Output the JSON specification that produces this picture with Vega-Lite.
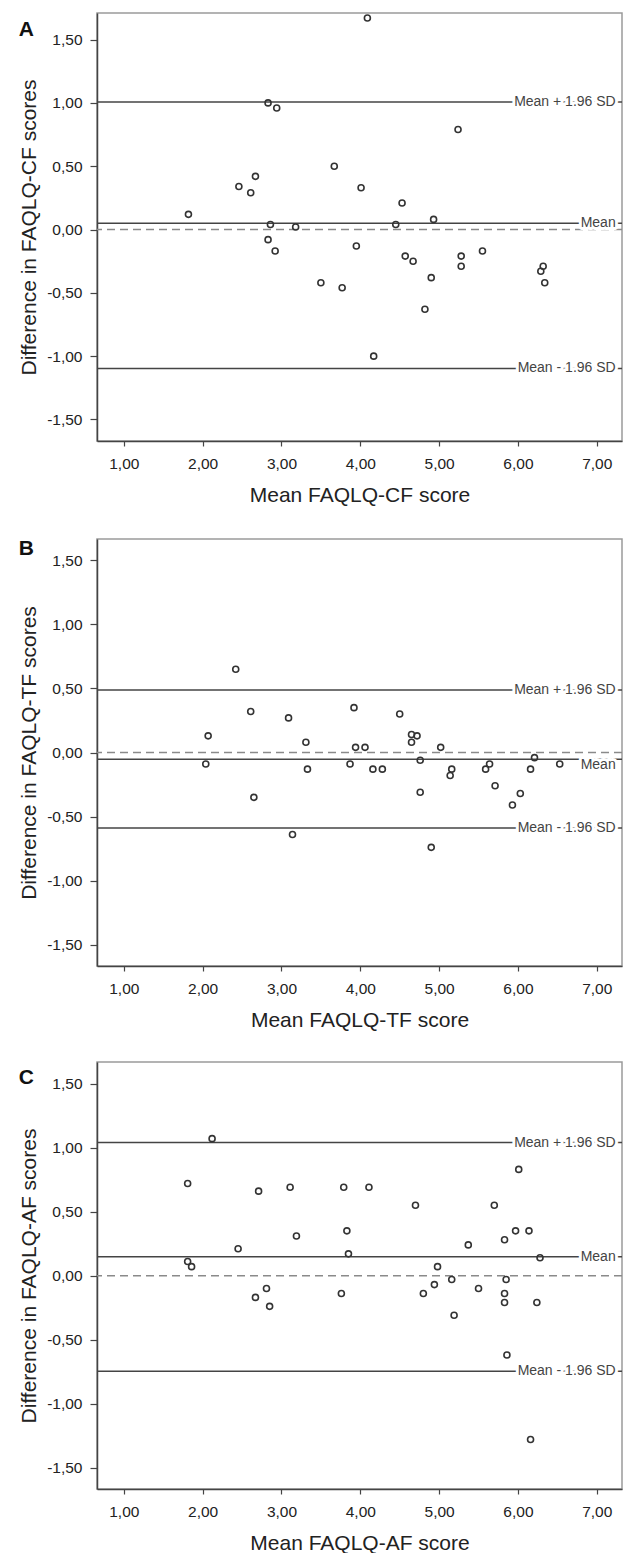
{
  "$schema": "https://vega.github.io/schema/vega-lite/v6.json",
  "padding": {"left": 17, "top": 11, "right": 5, "bottom": 0},
  "background": "white",
  "spacing": 29,
  "datasets": {
    "points": [
      {"panel":"A","mean":1.82,"diff":0.12},{"panel":"A","mean":2.46,"diff":0.34},{"panel":"A","mean":2.61,"diff":0.29},{"panel":"A","mean":2.67,"diff":0.42},
      {"panel":"A","mean":2.83,"diff":1.00},{"panel":"A","mean":2.94,"diff":0.96},{"panel":"A","mean":2.86,"diff":0.04},{"panel":"A","mean":3.18,"diff":0.02},
      {"panel":"A","mean":2.83,"diff":-0.08},{"panel":"A","mean":2.92,"diff":-0.17},{"panel":"A","mean":4.09,"diff":1.67},{"panel":"A","mean":5.24,"diff":0.79},
      {"panel":"A","mean":3.67,"diff":0.50},{"panel":"A","mean":4.01,"diff":0.33},{"panel":"A","mean":4.53,"diff":0.21},{"panel":"A","mean":4.45,"diff":0.04},
      {"panel":"A","mean":4.93,"diff":0.08},{"panel":"A","mean":3.95,"diff":-0.13},{"panel":"A","mean":5.55,"diff":-0.17},{"panel":"A","mean":3.50,"diff":-0.42},
      {"panel":"A","mean":3.77,"diff":-0.46},{"panel":"A","mean":4.57,"diff":-0.21},{"panel":"A","mean":4.67,"diff":-0.25},{"panel":"A","mean":4.90,"diff":-0.38},
      {"panel":"A","mean":4.82,"diff":-0.63},{"panel":"A","mean":4.17,"diff":-1.00},{"panel":"A","mean":5.28,"diff":-0.21},{"panel":"A","mean":5.28,"diff":-0.29},
      {"panel":"A","mean":6.32,"diff":-0.29},{"panel":"A","mean":6.29,"diff":-0.33},{"panel":"A","mean":6.34,"diff":-0.42},
      {"panel":"B","mean":2.42,"diff":0.65},{"panel":"B","mean":2.61,"diff":0.32},{"panel":"B","mean":3.09,"diff":0.27},{"panel":"B","mean":3.92,"diff":0.35},
      {"panel":"B","mean":4.50,"diff":0.30},{"panel":"B","mean":2.07,"diff":0.13},{"panel":"B","mean":3.31,"diff":0.08},{"panel":"B","mean":3.94,"diff":0.04},
      {"panel":"B","mean":4.06,"diff":0.04},{"panel":"B","mean":4.65,"diff":0.14},{"panel":"B","mean":4.72,"diff":0.13},{"panel":"B","mean":4.65,"diff":0.08},
      {"panel":"B","mean":5.02,"diff":0.04},{"panel":"B","mean":2.04,"diff":-0.09},{"panel":"B","mean":3.33,"diff":-0.13},{"panel":"B","mean":3.87,"diff":-0.09},
      {"panel":"B","mean":4.16,"diff":-0.13},{"panel":"B","mean":4.28,"diff":-0.13},{"panel":"B","mean":4.76,"diff":-0.06},{"panel":"B","mean":5.16,"diff":-0.13},
      {"panel":"B","mean":5.14,"diff":-0.18},{"panel":"B","mean":5.59,"diff":-0.13},{"panel":"B","mean":5.64,"diff":-0.09},{"panel":"B","mean":5.71,"diff":-0.26},
      {"panel":"B","mean":6.16,"diff":-0.13},{"panel":"B","mean":6.21,"diff":-0.04},{"panel":"B","mean":6.53,"diff":-0.09},{"panel":"B","mean":2.65,"diff":-0.35},
      {"panel":"B","mean":4.76,"diff":-0.31},{"panel":"B","mean":6.03,"diff":-0.32},{"panel":"B","mean":5.93,"diff":-0.41},{"panel":"B","mean":3.14,"diff":-0.64},
      {"panel":"B","mean":4.90,"diff":-0.74},
      {"panel":"C","mean":2.12,"diff":1.07},{"panel":"C","mean":1.81,"diff":0.72},{"panel":"C","mean":2.71,"diff":0.66},{"panel":"C","mean":3.11,"diff":0.69},
      {"panel":"C","mean":3.79,"diff":0.69},{"panel":"C","mean":4.11,"diff":0.69},{"panel":"C","mean":4.70,"diff":0.55},{"panel":"C","mean":5.70,"diff":0.55},
      {"panel":"C","mean":6.01,"diff":0.83},{"panel":"C","mean":3.19,"diff":0.31},{"panel":"C","mean":3.83,"diff":0.35},{"panel":"C","mean":2.45,"diff":0.21},
      {"panel":"C","mean":3.85,"diff":0.17},{"panel":"C","mean":1.81,"diff":0.11},{"panel":"C","mean":1.86,"diff":0.07},{"panel":"C","mean":5.37,"diff":0.24},
      {"panel":"C","mean":5.83,"diff":0.28},{"panel":"C","mean":5.97,"diff":0.35},{"panel":"C","mean":6.14,"diff":0.35},{"panel":"C","mean":6.28,"diff":0.14},
      {"panel":"C","mean":4.98,"diff":0.07},{"panel":"C","mean":2.67,"diff":-0.17},{"panel":"C","mean":2.81,"diff":-0.10},{"panel":"C","mean":2.85,"diff":-0.24},
      {"panel":"C","mean":3.76,"diff":-0.14},{"panel":"C","mean":4.80,"diff":-0.14},{"panel":"C","mean":4.94,"diff":-0.07},{"panel":"C","mean":5.16,"diff":-0.03},
      {"panel":"C","mean":5.19,"diff":-0.31},{"panel":"C","mean":5.50,"diff":-0.10},{"panel":"C","mean":5.85,"diff":-0.03},{"panel":"C","mean":5.83,"diff":-0.14},
      {"panel":"C","mean":5.83,"diff":-0.21},{"panel":"C","mean":6.24,"diff":-0.21},{"panel":"C","mean":5.86,"diff":-0.62},{"panel":"C","mean":6.16,"diff":-1.28}
    ],
    "lines": [
      {"panel":"A","kind":"zero","label":"","diff":0},
      {"panel":"A","kind":"ref","label":"Mean + 1.96 SD","diff":1.008},
      {"panel":"A","kind":"ref","label":"Mean","diff":0.05},
      {"panel":"A","kind":"ref","label":"Mean - 1.96 SD","diff":-1.097},
      {"panel":"B","kind":"zero","label":"","diff":0},
      {"panel":"B","kind":"ref","label":"Mean + 1.96 SD","diff":0.487},
      {"panel":"B","kind":"ref","label":"Mean","diff":-0.052},
      {"panel":"B","kind":"ref","label":"Mean - 1.96 SD","diff":-0.589},
      {"panel":"C","kind":"zero","label":"","diff":0},
      {"panel":"C","kind":"ref","label":"Mean + 1.96 SD","diff":1.04},
      {"panel":"C","kind":"ref","label":"Mean","diff":0.147},
      {"panel":"C","kind":"ref","label":"Mean - 1.96 SD","diff":-0.747}
    ]
  },
  "vconcat": [
    {
      "width": 525, "height": 428,
      "title": {"text": "A", "anchor": "start", "frame": "bounds", "baseline": "top", "offset": -28.5},
      "layer": [
        {"data": {"name": "lines"}, "transform": [{"filter": "datum.panel === 'A' && datum.kind === 'zero'"}],
         "mark": {"type": "rule", "color": "#8a8a8a", "strokeWidth": 1.5, "strokeDash": [8, 5]},
         "encoding": {"y": {"field": "diff", "type": "quantitative", "scale": {"domain": [-1.67, 1.71], "nice": false, "zero": false},
           "axis": {"title": "Difference in FAQLQ-CF scores", "values": [-1.5, -1, -0.5, 0, 0.5, 1, 1.5], "labelExpr": "(datum.value < 0 ? '-' : '') + replace(format(abs(datum.value), '.2f'), '.', ',')"}}}},
        {"data": {"name": "lines"}, "transform": [{"filter": "datum.panel === 'A' && datum.kind === 'ref'"}],
         "mark": {"type": "rule", "color": "#444", "strokeWidth": 1.5},
         "encoding": {"y": {"field": "diff", "type": "quantitative"}}},
        {"data": {"name": "lines"}, "transform": [{"filter": "datum.panel === 'A' && datum.kind === 'ref'"}],
         "mark": {"type": "text", "align": "right", "baseline": "middle", "fontSize": 14, "fill": "white", "stroke": "white", "strokeWidth": 6, "strokeJoin": "round"},
         "encoding": {"x": {"datum": 7.24, "type": "quantitative"}, "y": {"field": "diff", "type": "quantitative"}, "text": {"field": "label"}}},
        {"data": {"name": "lines"}, "transform": [{"filter": "datum.panel === 'A' && datum.kind === 'ref'"}],
         "mark": {"type": "text", "align": "right", "baseline": "middle", "fontSize": 14, "fill": "#444"},
         "encoding": {"x": {"datum": 7.24, "type": "quantitative"}, "y": {"field": "diff", "type": "quantitative"}, "text": {"field": "label"}}},
        {"data": {"name": "points"}, "transform": [{"filter": "datum.panel === 'A'"}],
         "mark": {"type": "point", "shape": "circle", "filled": false, "size": 36, "strokeWidth": 1.6, "color": "#333", "opacity": 1},
         "encoding": {
           "x": {"field": "mean", "type": "quantitative", "scale": {"domain": [0.66, 7.32], "nice": false, "zero": false},
             "axis": {"title": "Mean FAQLQ-CF score", "values": [1, 2, 3, 4, 5, 6, 7], "labelExpr": "replace(format(datum.value, '.2f'), '.', ',')"}},
           "y": {"field": "diff", "type": "quantitative"}}}
      ]
    },
    {
      "width": 525, "height": 427,
      "title": {"text": "B", "anchor": "start", "frame": "bounds", "baseline": "top", "offset": -19.5},
      "layer": [
        {"data": {"name": "lines"}, "transform": [{"filter": "datum.panel === 'B' && datum.kind === 'zero'"}],
         "mark": {"type": "rule", "color": "#8a8a8a", "strokeWidth": 1.5, "strokeDash": [8, 5]},
         "encoding": {"y": {"field": "diff", "type": "quantitative", "scale": {"domain": [-1.666, 1.666], "nice": false, "zero": false},
           "axis": {"title": "Difference in FAQLQ-TF scores", "values": [-1.5, -1, -0.5, 0, 0.5, 1, 1.5], "labelExpr": "(datum.value < 0 ? '-' : '') + replace(format(abs(datum.value), '.2f'), '.', ',')"}}}},
        {"data": {"name": "lines"}, "transform": [{"filter": "datum.panel === 'B' && datum.kind === 'ref'"}],
         "mark": {"type": "rule", "color": "#444", "strokeWidth": 1.5},
         "encoding": {"y": {"field": "diff", "type": "quantitative"}}},
        {"data": {"name": "lines"}, "transform": [{"filter": "datum.panel === 'B' && datum.kind === 'ref' && datum.label !== 'Mean'"}],
         "mark": {"type": "text", "align": "right", "baseline": "middle", "fontSize": 14, "fill": "white", "stroke": "white", "strokeWidth": 6, "strokeJoin": "round"},
         "encoding": {"x": {"datum": 7.24, "type": "quantitative"}, "y": {"field": "diff", "type": "quantitative"}, "text": {"field": "label"}}},
        {"data": {"name": "lines"}, "transform": [{"filter": "datum.panel === 'B' && datum.kind === 'ref' && datum.label !== 'Mean'"}],
         "mark": {"type": "text", "align": "right", "baseline": "middle", "fontSize": 14, "fill": "#444"},
         "encoding": {"x": {"datum": 7.24, "type": "quantitative"}, "y": {"field": "diff", "type": "quantitative"}, "text": {"field": "label"}}},
        {"data": {"name": "lines"}, "transform": [{"filter": "datum.panel === 'B' && datum.label === 'Mean'"}],
         "mark": {"type": "text", "align": "right", "baseline": "middle", "dy": 6, "fontSize": 14, "fill": "white", "stroke": "white", "strokeWidth": 6, "strokeJoin": "round"},
         "encoding": {"x": {"datum": 7.24, "type": "quantitative"}, "y": {"field": "diff", "type": "quantitative"}, "text": {"field": "label"}}},
        {"data": {"name": "lines"}, "transform": [{"filter": "datum.panel === 'B' && datum.label === 'Mean'"}],
         "mark": {"type": "text", "align": "right", "baseline": "middle", "dy": 6, "fontSize": 14, "fill": "#444"},
         "encoding": {"x": {"datum": 7.24, "type": "quantitative"}, "y": {"field": "diff", "type": "quantitative"}, "text": {"field": "label"}}},
        {"data": {"name": "points"}, "transform": [{"filter": "datum.panel === 'B'"}],
         "mark": {"type": "point", "shape": "circle", "filled": false, "size": 36, "strokeWidth": 1.6, "color": "#333", "opacity": 1},
         "encoding": {
           "x": {"field": "mean", "type": "quantitative", "scale": {"domain": [0.66, 7.32], "nice": false, "zero": false},
             "axis": {"title": "Mean FAQLQ-TF score", "values": [1, 2, 3, 4, 5, 6, 7], "labelExpr": "replace(format(datum.value, '.2f'), '.', ',')"}},
           "y": {"field": "diff", "type": "quantitative"}}}
      ]
    },
    {
      "width": 525, "height": 427,
      "title": {"text": "C", "anchor": "start", "frame": "bounds", "baseline": "top", "offset": -26},
      "layer": [
        {"data": {"name": "lines"}, "transform": [{"filter": "datum.panel === 'C' && datum.kind === 'zero'"}],
         "mark": {"type": "rule", "color": "#8a8a8a", "strokeWidth": 1.5, "strokeDash": [8, 5]},
         "encoding": {"y": {"field": "diff", "type": "quantitative", "scale": {"domain": [-1.667, 1.669], "nice": false, "zero": false},
           "axis": {"title": "Difference in FAQLQ-AF scores", "values": [-1.5, -1, -0.5, 0, 0.5, 1, 1.5], "labelExpr": "(datum.value < 0 ? '-' : '') + replace(format(abs(datum.value), '.2f'), '.', ',')"}}}},
        {"data": {"name": "lines"}, "transform": [{"filter": "datum.panel === 'C' && datum.kind === 'ref'"}],
         "mark": {"type": "rule", "color": "#444", "strokeWidth": 1.5},
         "encoding": {"y": {"field": "diff", "type": "quantitative"}}},
        {"data": {"name": "lines"}, "transform": [{"filter": "datum.panel === 'C' && datum.kind === 'ref'"}],
         "mark": {"type": "text", "align": "right", "baseline": "middle", "fontSize": 14, "fill": "white", "stroke": "white", "strokeWidth": 6, "strokeJoin": "round"},
         "encoding": {"x": {"datum": 7.24, "type": "quantitative"}, "y": {"field": "diff", "type": "quantitative"}, "text": {"field": "label"}}},
        {"data": {"name": "lines"}, "transform": [{"filter": "datum.panel === 'C' && datum.kind === 'ref'"}],
         "mark": {"type": "text", "align": "right", "baseline": "middle", "fontSize": 14, "fill": "#444"},
         "encoding": {"x": {"datum": 7.24, "type": "quantitative"}, "y": {"field": "diff", "type": "quantitative"}, "text": {"field": "label"}}},
        {"data": {"name": "points"}, "transform": [{"filter": "datum.panel === 'C'"}],
         "mark": {"type": "point", "shape": "circle", "filled": false, "size": 36, "strokeWidth": 1.6, "color": "#333", "opacity": 1},
         "encoding": {
           "x": {"field": "mean", "type": "quantitative", "scale": {"domain": [0.66, 7.32], "nice": false, "zero": false},
             "axis": {"title": "Mean FAQLQ-AF score", "values": [1, 2, 3, 4, 5, 6, 7], "labelExpr": "replace(format(datum.value, '.2f'), '.', ',')"}},
           "y": {"field": "diff", "type": "quantitative"}}}
      ]
    }
  ],
  "config": {
    "font": "Liberation Sans",
    "view": {"stroke": "#9a9a9a", "strokeWidth": 1.5},
    "axis": {"labelFont": "Liberation Sans", "titleFont": "Liberation Sans", "labelFontSize": 15.5, "titleFontSize": 21,
      "titleFontWeight": "normal", "labelColor": "#222", "titleColor": "#222", "domainColor": "#444", "domainWidth": 1.5,
      "tickColor": "#444", "tickWidth": 1.2, "grid": false},
    "axisX": {"tickSize": 5, "labelPadding": 10, "titlePadding": 13},
    "axisY": {"tickSize": 7, "labelPadding": 8, "titlePadding": 7},
    "title": {"font": "Liberation Sans", "fontSize": 21, "fontWeight": "bold", "color": "#111"},
    "text": {"font": "Liberation Sans"}
  }
}
